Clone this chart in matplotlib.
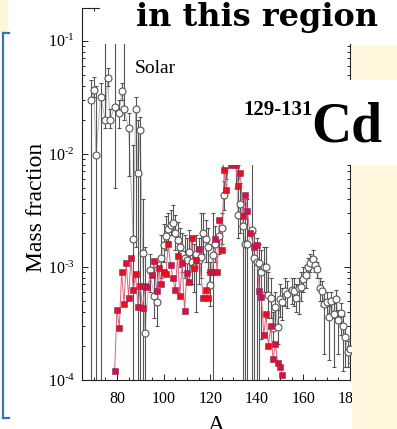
import matplotlib
matplotlib.use("Agg")
import matplotlib.pyplot as plt
from matplotlib.patches import Rectangle
from matplotlib.lines import Line2D
from matplotlib.ticker import LogLocator, MultipleLocator, FixedLocator, NullFormatter, FuncFormatter
import numpy as np

plt.rcParams['font.family'] = ['Liberation Serif', 'DejaVu Serif']
plt.rcParams['mathtext.fontset'] = 'stix'

# ---- data: solar r-process mass fractions (open circles) ----
solar_A = [69, 70, 71, 73, 75, 76, 77, 79, 81, 82, 83, 85, 87, 88, 89, 90, 91, 92,
           94, 96, 97, 99, 100, 101, 102, 103, 104, 105, 106, 107, 108, 109, 110,
           111, 112, 113, 114, 115, 116, 117, 118, 119, 120, 121, 122, 124, 125,
           126, 127, 128, 129, 130, 131, 132, 133, 134, 135, 136, 138, 139, 140,
           141, 142, 143, 144, 145, 146, 147, 148, 149, 150, 151, 152, 153, 155,
           156, 157, 158, 159, 160, 161, 162, 163, 164, 165, 166, 167, 168, 169,
           170, 171, 172, 173, 174, 175, 176, 177, 178, 179, 180]
solar_Y = [0.030, 0.037, 0.0098, 0.032, 0.020, 0.047, 0.020, 0.026, 0.023, 0.036,
           0.025, 0.017, 0.00176, 0.025, 0.0068, 0.0164, 0.00133, 0.00026,
           0.00093, 0.00055, 0.00049, 0.00119, 0.00157, 0.00186, 0.00217, 0.00235,
           0.00247, 0.0020, 0.00174, 0.0015, 0.0013, 0.0012, 0.00115,
           0.00136, 0.0011, 0.0010, 0.0013, 0.00115, 0.00122, 0.0020, 0.00176,
           0.0015, 0.00069, 0.00128, 0.0016, 0.00188, 0.0022,
           0.0043, 0.0080, 0.012, 0.015, 0.018, 0.0085, 0.0029, 0.0036, 0.0023,
           0.0016, 0.0016, 0.0021, 0.0012, 0.0011,
           0.00108, 0.0009, 0.0010, 0.0010, 0.00056, 0.00053, 0.00029, 0.00044,
           0.000295, 0.00052, 0.00049, 0.00061, 0.00058, 0.00063,
           0.00061, 0.00053, 0.00065, 0.00067, 0.00079, 0.00084, 0.0010, 0.00109,
           0.00118, 0.00104, 0.00096, 0.00065, 0.00061, 0.00047,
           0.00049, 0.00036, 0.0005, 0.00038, 0.00052, 0.00034, 0.00039, 0.0003,
           0.00024, 0.000176, 0.000188]
solar_lo = [1e-5, 0.032, 1e-5, 1e-5, 0.017, 0.040, 0.017, 0.005, 0.017, 0.030,
            0.020, 0.0064, 1e-5, 0.0015, 1e-5, 1e-5, 1e-5, 1e-5,
            0.0006, 0.00035, 0.0003, 0.0008, 0.0011, 0.0014, 0.0017, 0.0019,
            0.0020, 0.0014, 0.0012, 0.0010, 0.0009, 0.0008, 0.0007,
            0.0009, 0.0007, 0.0006, 0.0004, 0.0007, 0.0008, 0.0013, 0.0011,
            0.0009, 0.00045, 1e-5, 0.0011, 0.0013, 0.0016,
            0.0032, 0.0060, 0.009, 0.011, 0.013, 0.005, 0.0018, 0.002, 1e-5,
            1e-5, 1e-5, 1e-5, 1e-5, 1e-5,
            1e-5, 0.00023, 0.0006, 0.0006, 0.00035, 0.00035, 0.0002, 0.0003,
            0.00021, 0.00036, 0.00034, 0.00045, 0.00043, 0.00047,
            0.00045, 0.0004, 0.00038, 0.0005, 0.0006, 0.00065, 0.0008, 0.0009,
            0.001, 0.0009, 0.0008, 0.0005, 0.00045, 0.00017,
            0.00035, 0.00015, 0.00035, 0.00013, 0.00035, 0.00017, 0.00025, 0.00012,
            0.00013, 0.00013, 0.00014]
solar_hi = [0.045, 0.048, 0.04, 0.042, 0.5, 0.057, 0.025, 0.5, 0.030, 0.042,
            0.5, 0.023, 0.012, 0.032, 0.02, 0.021, 0.004, 0.0015,
            0.0013, 0.001, 0.0011, 0.0019, 0.0024, 0.0028, 0.0030, 0.0032,
            0.0035, 0.0029, 0.0025, 0.0022, 0.0020, 0.0019, 0.0018,
            0.0021, 0.0017, 0.0016, 0.0019, 0.0018, 0.0030, 0.0030, 0.0026,
            0.0022, 0.0011, 0.0030, 0.0023, 0.0026, 0.0030,
            0.0057, 0.011, 0.016, 0.02, 0.024, 0.012, 0.008, 0.0055, 0.004,
            0.004, 0.004, 0.03, 0.002, 0.0018,
            0.0016, 0.0014, 0.0015, 0.0015, 0.0009, 0.0008, 0.0004, 0.0006,
            0.00042, 0.0007, 0.00065, 0.0008, 0.00075, 0.0008,
            0.0008, 0.0007, 0.0008, 0.0009, 0.001, 0.00105, 0.0012, 0.0013,
            0.0014, 0.0012, 0.0011, 0.0008, 0.00075, 0.0006,
            0.0006, 0.00045, 0.0006, 0.00048, 0.00062, 0.00042, 0.00048, 0.00037,
            0.0003, 0.00022, 0.00023]

# ---- data: model mass fractions (red squares) ----
model_A = [79, 80, 81, 82, 83, 84, 85, 86, 87, 88, 89, 90, 91, 92, 93, 95, 96, 97,
           98, 99, 100, 101, 102, 103, 104, 105, 106, 107, 108, 109, 110, 111,
           112, 113, 114, 115, 117, 118, 119, 120, 121, 122, 123, 124, 125, 126,
           127, 128, 129, 130, 131, 132, 133, 134, 135, 136, 137, 139, 140, 141,
           142, 143, 144, 145, 146, 147, 148, 149, 150, 151]
model_Y = [1.2e-4, 4.2e-4, 2.9e-4, 9.1e-4, 4.7e-4, 1.08e-3, 5.3e-4, 1.19e-3, 6.25e-4,
           8.6e-4, 4.4e-4, 6.8e-4, 4.3e-4, 6.8e-4, 6.6e-4, 8.4e-4, 1.13e-3, 6.1e-4,
           9.7e-4, 7.1e-4, 9.0e-4, 8.7e-4, 1.6e-3, 1.04e-3, 8.0e-4, 6.2e-4, 1.24e-3,
           5.5e-4, 1.08e-3, 4.1e-4, 8.8e-4, 7.3e-4, 1.8e-3, 9.7e-4, 1.15e-3, 1.45e-3,
           5.3e-4, 6.25e-4, 5.3e-4, 9.0e-4, 9.0e-4, 1.76e-3, 9.0e-4, 2.6e-3, 1.4e-3,
           7.2e-3, 4.8e-3, 1.0e-2, 8.0e-3, 1.2e-2, 8.0e-3, 5.2e-3, 6.8e-3, 2.8e-3,
           4.3e-3, 3.1e-3, 2.0e-3, 1.5e-3, 1.57e-3, 6.1e-4, 5.4e-4, 2.5e-4, 3.8e-4,
           2.0e-4, 3.0e-4, 1.53e-4, 2.1e-4, 1.4e-4, 1.3e-4, 1.1e-4]

x_ticks = [80, 100, 120, 140, 160, 180]

W, H = 397, 429
fig = plt.figure(figsize=(W / 100, H / 100), dpi=100)


def fx(x):
    return x / W


def fy(y):
    return 1 - y / H


ax = fig.add_axes([fx(82), fy(380), (350 - 82) / W, (380 - 8) / H])
ax.set_yscale('log')
ax.set_xlim(65, 180)
ax.set_ylim(1e-4, 0.195)

sY = np.array(solar_Y)
err = np.vstack([sY - np.array(solar_lo), np.array(solar_hi) - sY])

ax.plot(solar_A, solar_Y, '-', color='#b8b8b8', lw=0.7, zorder=2)
ax.errorbar(solar_A, solar_Y, yerr=err, fmt='none', ecolor='#555555',
            elinewidth=0.8, capsize=1.6, capthick=0.8, zorder=3)
ax.plot(model_A, model_Y, '-', color='#e0607a', lw=0.7, zorder=4)
ax.plot(solar_A, solar_Y, 'o', ms=5, mfc='white', mec='#555555', mew=0.8,
        zorder=5, clip_on=False)
ax.plot(model_A, model_Y, 's', ms=4.8, mfc='#e8101e', mec='#6a2a8a', mew=0.4,
        zorder=6)


def ylab(v, pos):
    e = int(round(np.log10(v)))
    return r'$\mathdefault{10^{\text{-}%d}}$' % (-e) if e < 0 else r'$\mathdefault{10^{%d}}$' % e


ax.xaxis.set_major_locator(FixedLocator(x_ticks))
ax.xaxis.set_minor_locator(MultipleLocator(5))
ax.yaxis.set_major_locator(LogLocator(base=10, numticks=10))
ax.yaxis.set_major_formatter(FuncFormatter(ylab))
ax.yaxis.set_minor_locator(LogLocator(base=10, subs=np.arange(2, 10), numticks=10))
ax.yaxis.set_minor_formatter(NullFormatter())
ax.tick_params(which='both', direction='in', top=True, right=True,
               colors='#222222', labelcolor='black', width=0.7)
ax.tick_params(which='major', length=4.5, labelsize=11.5)
ax.tick_params(which='minor', length=2.5)
ax.tick_params(axis='x', pad=8)
ax.tick_params(axis='y', pad=5)
for s in ax.spines.values():
    s.set_linewidth(0.8)
    s.set_color('#222222')

# labels
fig.text(fx(36), fy(207), 'Mass fraction', rotation=90, ha='center', va='center', size=17)
fig.text(fx(216), fy(431), 'A', ha='center', va='baseline', size=17)
fig.text(fx(135), fy(73), 'Solar', ha='left', va='baseline', size=14)

# slide decorations
fig.add_artist(Rectangle((0, fy(32)), fx(8), 32 / H, transform=fig.transFigure,
                         facecolor='#fff6dc', edgecolor='none', zorder=10))
fig.add_artist(Rectangle((fx(352), 0), fx(W - 352), (H - 45) / H, transform=fig.transFigure,
                         facecolor='#fff6dc', edgecolor='none', zorder=10))
fig.add_artist(Rectangle((fx(100), fy(44)), fx(W - 100), 44 / H, transform=fig.transFigure,
                         facecolor='white', edgecolor='none', zorder=11))
fig.add_artist(Rectangle((fx(215), fy(165)), fx(W - 215), 85 / H, transform=fig.transFigure,
                         facecolor='white', edgecolor='none', zorder=11))
blue = '#3a72b8'
fig.add_artist(Line2D([fx(3), fx(3)], [fy(33), fy(418)], color=blue, lw=1.6, zorder=12))
fig.add_artist(Line2D([fx(3), fx(9)], [fy(33), fy(33)], color=blue, lw=1.6, zorder=12))
fig.add_artist(Line2D([fx(3), fx(9)], [fy(418), fy(418)], color=blue, lw=1.6, zorder=12))

fig.text(fx(136), fy(26), 'in this region', ha='left', va='baseline', size=23,
         fontweight='bold', family=['DejaVu Serif'], zorder=13)
fig.text(fx(243), fy(115), '129-131', ha='left', va='baseline', size=15,
         fontweight='bold', zorder=13)
fig.text(fx(311), fy(142), 'Cd', ha='left', va='baseline', size=40,
         fontweight='bold', zorder=13)

fig.savefig('out.png', dpi=100)
